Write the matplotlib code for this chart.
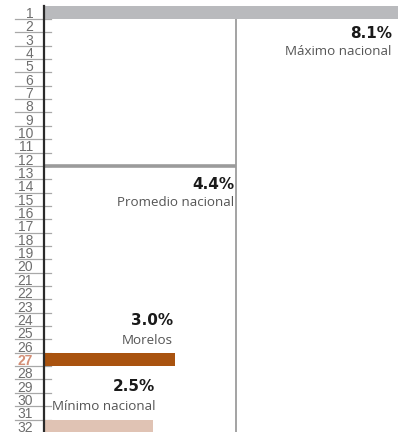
import numpy as np
import matplotlib.pyplot as plt
from matplotlib import transforms

# %% data
ranks = np.arange(1, 33)
bar_ranks = [1, 27, 32]
bar_values = [8.1, 3.0, 2.5]
bar_colors = ['#b9babd', '#a9530f', '#e0c3b4']
bar_pcts = ['8.1%', '3.0%', '2.5%']
bar_names = ['Máximo nacional', 'Morelos', 'Mínimo nacional']
avg_value = 4.4
avg_rank = 12.5
highlight = 27

plt.rcParams['font.family'] = ['Open Sans', 'DejaVu Sans']

# %% figure
fig = plt.figure(figsize=(4, 4.32), dpi=100)
ax = fig.add_axes([0.1108, -0.002, 0.8892, 0.9889])
ax.set_xlim(0, 8.15)
ax.set_ylim(32.5, 0.5)

# average reference lines
ax.axvline(avg_value, color='#8a8a8a', lw=1.1, zorder=1)
ax.hlines(avg_rank, 0, avg_value, color='#9b9b9b', lw=2.6, zorder=2)

ax.barh(bar_ranks, bar_values, height=1.0, color=bar_colors, zorder=3)

pct_font = dict(fontsize=11, fontweight='bold', color='#1a1a1a', family='DejaVu Sans')
name_font = dict(fontsize=9.6, color='#555555')

# annotations
off_px = [-6, -2, 2]
for r, v, p, n, o in zip(bar_ranks, bar_values, bar_pcts, bar_names, off_px):
    if r == 1:
        yp, yn = r + 1.6, r + 2.9
    else:
        yp, yn = r - 2.95, r - 1.45
    tr = ax.transData + transforms.ScaledTranslation(o / 100, 0, fig.dpi_scale_trans)
    ax.text(v, yp, p, ha='right', va='center', transform=tr, **pct_font)
    ax.text(v, yn, n, ha='right', va='center', transform=tr, **name_font)

tr = ax.transData + transforms.ScaledTranslation(-2 / 100, 0, fig.dpi_scale_trans)
ax.text(avg_value, avg_rank + 1.4, '4.4%', ha='right', va='center', transform=tr, **pct_font)
ax.text(avg_value, avg_rank + 2.75, 'Promedio nacional', ha='right', va='center',
        transform=tr, **name_font)

# rank labels and separators
ax.set_yticks(ranks)
ax.set_yticklabels([str(r) for r in ranks], family='Liberation Sans',
                   fontsize=10, color='#6e6e6e')
ax.tick_params(axis='y', length=0, pad=8)
ax.set_xticks([])
for lbl in ax.get_yticklabels():
    if lbl.get_text() == str(highlight):
        lbl.set_color('#d38f76')
        lbl.set_fontweight('bold')

ytr = ax.get_yaxis_transform()
for r in ranks:
    ax.plot([-0.082, 0.019], [r + 0.5, r + 0.5], color='#a8a8a8', lw=0.9,
            transform=ytr, clip_on=False, zorder=0)

for s in ['top', 'right', 'bottom']:
    ax.spines[s].set_visible(False)
ax.spines['left'].set_color('#2b2b2b')
ax.spines['left'].set_linewidth(1.6)
ax.spines['left'].set_zorder(5)

plt.savefig('out.png', dpi=100)
